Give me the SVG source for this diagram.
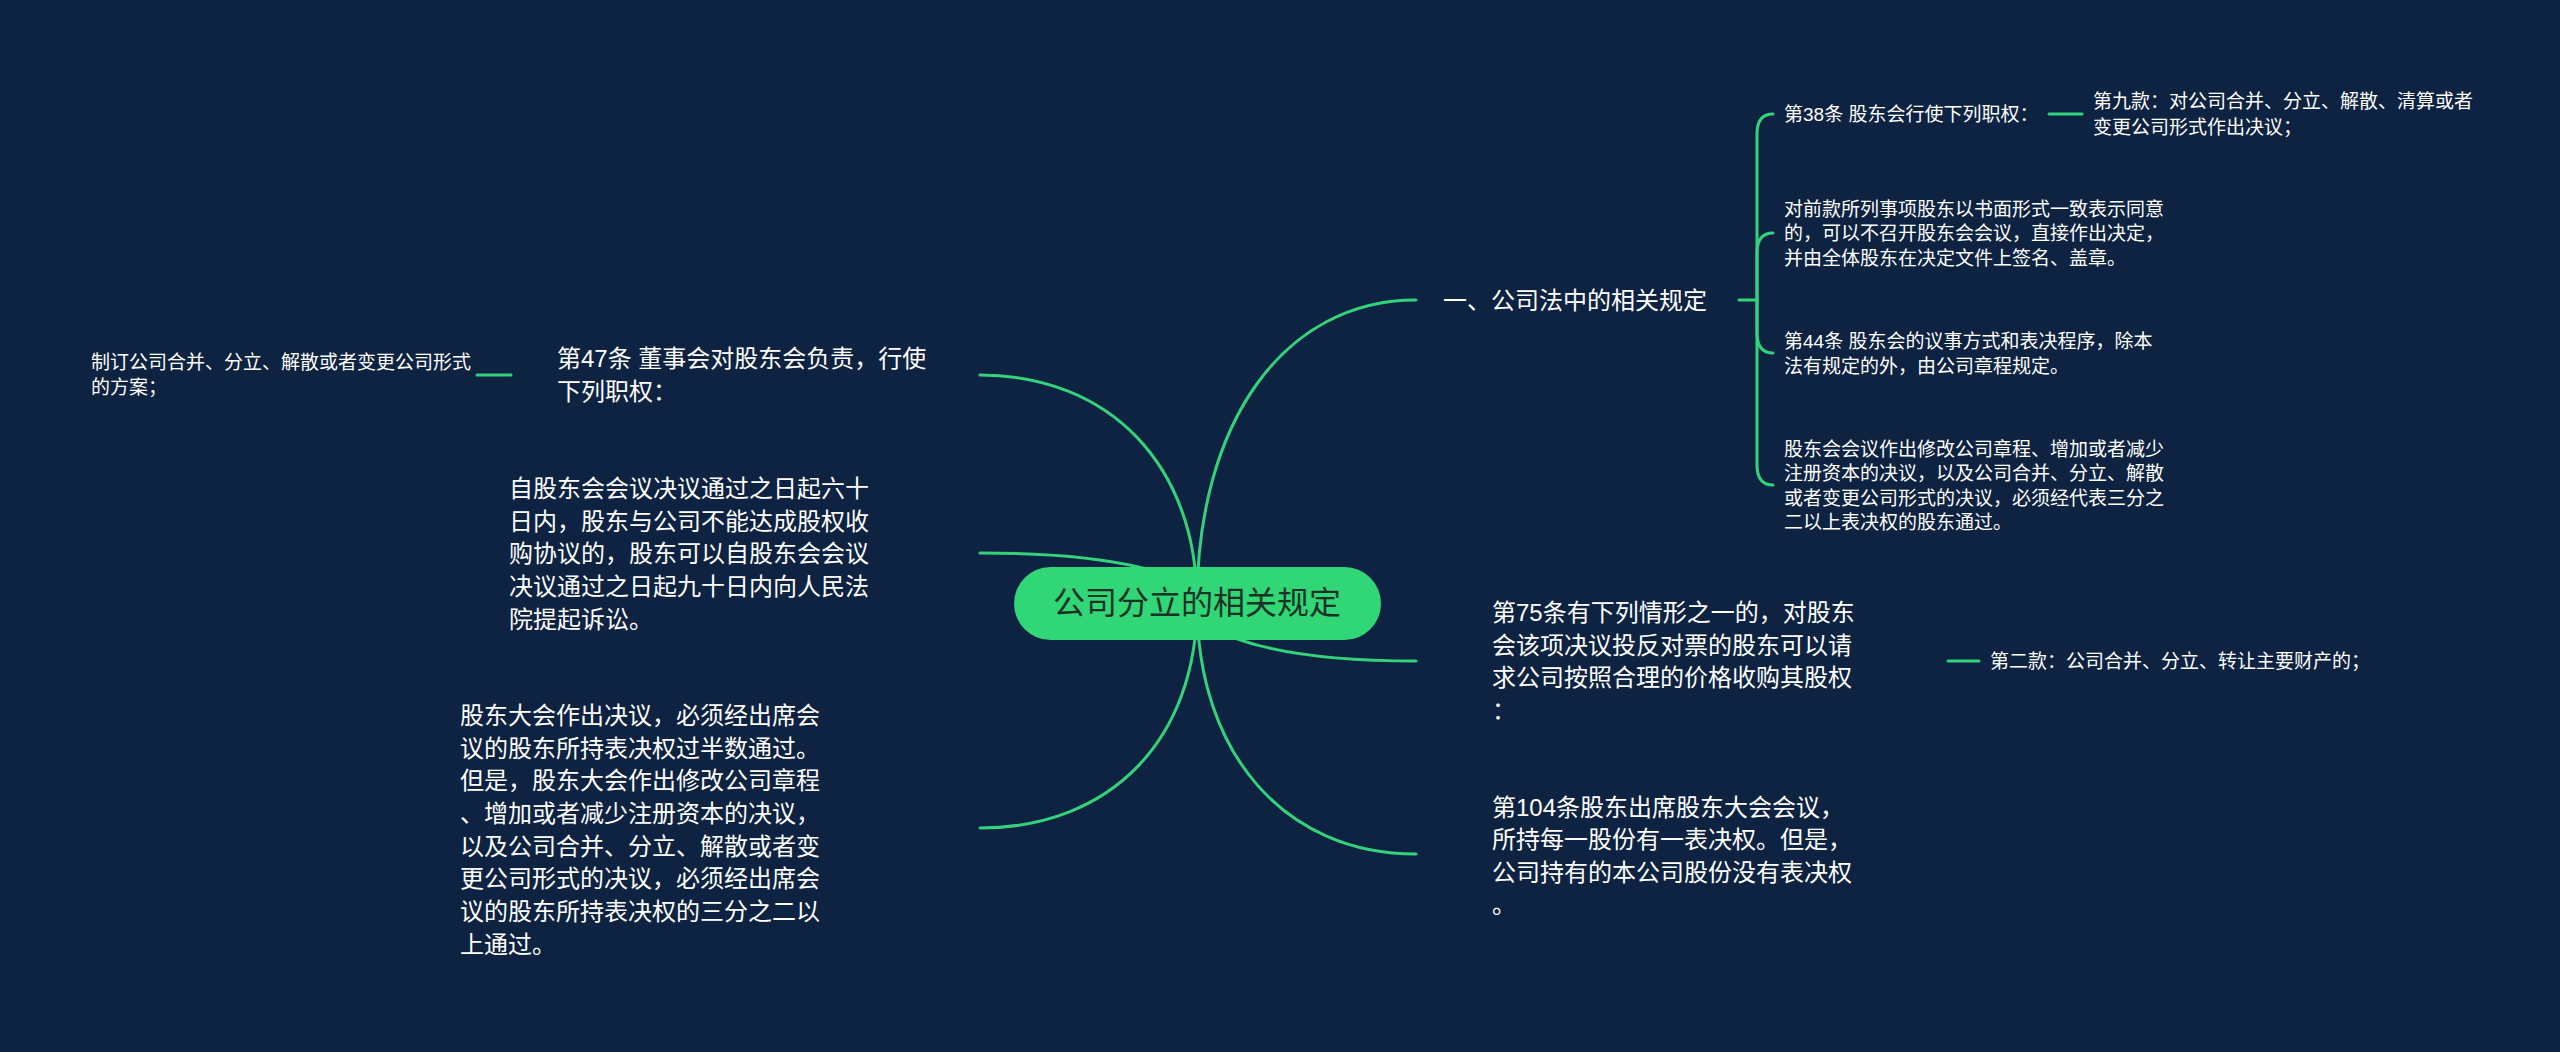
<svg xmlns="http://www.w3.org/2000/svg" width="2560" height="1052" viewBox="0 0 2560 1052">
<style>
.bg{fill:#0d2341}
.ln{fill:none;stroke:#34d27a;stroke-width:3;stroke-linecap:round}
.t{font-family:"Liberation Sans","Noto Sans CJK SC",sans-serif;fill:#ffffff;dominant-baseline:central}
.b{font-size:24px}
.s{font-size:19px}
.root{fill:#31d676}
.rt{font-family:"Liberation Sans","Noto Sans CJK SC",sans-serif;font-size:32px;fill:#183325;dominant-baseline:central;text-anchor:middle}
</style>
<rect class="bg" x="0" y="0" width="2560" height="1052"/>
<g id="connectors">
<path class="ln" d="M1197 603 C1197 421 1285 300 1416 300"/>
<path class="ln" d="M1197 603 C1197 466 1110 375 980 375"/>
<path class="ln" d="M1197 603 C1197 573 1110 553 980 553"/>
<path class="ln" d="M1197 603 C1197 638 1285 661 1416 661"/>
<path class="ln" d="M1197 603 C1197 740 1110 828 980 828"/>
<path class="ln" d="M1197 603 C1197 754 1285 854 1416 854"/>
<path class="ln" d="M1739 300 L1757 300"/>
<path class="ln" d="M1757 300 L1757 134 Q1757 114 1773 114"/>
<path class="ln" d="M1757 300 L1757 253 Q1757 233 1773 233"/>
<path class="ln" d="M1757 300 L1757 333 Q1757 353 1773 353"/>
<path class="ln" d="M1757 300 L1757 465 Q1757 485 1773 485"/>
<path class="ln" d="M2049 114 L2082 114"/>
<path class="ln" d="M1948 661 L1979 661"/>
<path class="ln" d="M477 375 L511 375"/>
</g>
<g id="root">
<rect class="root" x="1014" y="567" width="367" height="73" rx="36.5"/>
<text class="rt" x="1197" y="603">公司分立的相关规定</text>
</g>
<g id="n-r1">
<text class="t b" x="1443" y="300">一、公司法中的相关规定</text>
</g>
<g id="n-r1a">
<text class="t s" x="1784" y="114">第38条 股东会行使下列职权：</text>
</g>
<g id="n-r1a1">
<text class="t s" x="2093"><tspan x="2093" y="101">第九款：对公司合并、分立、解散、清算或者</tspan><tspan x="2093" y="127">变更公司形式作出决议；</tspan></text>
</g>
<g id="n-r1b">
<text class="t s"><tspan x="1784" y="209">对前款所列事项股东以书面形式一致表示同意</tspan><tspan x="1784" y="233">的，可以不召开股东会会议，直接作出决定，</tspan><tspan x="1784" y="258">并由全体股东在决定文件上签名、盖章。</tspan></text>
</g>
<g id="n-r1c">
<text class="t s"><tspan x="1784" y="341">第44条 股东会的议事方式和表决程序，除本</tspan><tspan x="1784" y="366">法有规定的外，由公司章程规定。</tspan></text>
</g>
<g id="n-r1d">
<text class="t s"><tspan x="1784" y="449">股东会会议作出修改公司章程、增加或者减少</tspan><tspan x="1784" y="473">注册资本的决议，以及公司合并、分立、解散</tspan><tspan x="1784" y="498">或者变更公司形式的决议，必须经代表三分之</tspan><tspan x="1784" y="522">二以上表决权的股东通过。</tspan></text>
</g>
<g id="n-r2">
<text class="t b"><tspan x="1492" y="612">第75条有下列情形之一的，对股东</tspan><tspan x="1492" y="645">会该项决议投反对票的股东可以请</tspan><tspan x="1492" y="677">求公司按照合理的价格收购其股权</tspan><tspan x="1492" y="710">：</tspan></text>
</g>
<g id="n-r2a">
<text class="t s" x="1990" y="661">第二款：公司合并、分立、转让主要财产的；</text>
</g>
<g id="n-r3">
<text class="t b"><tspan x="1492" y="807">第104条股东出席股东大会会议，</tspan><tspan x="1492" y="839">所持每一股份有一表决权。但是，</tspan><tspan x="1492" y="872">公司持有的本公司股份没有表决权</tspan><tspan x="1492" y="904">。</tspan></text>
</g>
<g id="n-l1">
<text class="t b"><tspan x="557" y="358">第47条 董事会对股东会负责，行使</tspan><tspan x="557" y="391">下列职权：</tspan></text>
</g>
<g id="n-l1a">
<text class="t s"><tspan x="91" y="362">制订公司合并、分立、解散或者变更公司形式</tspan><tspan x="91" y="387">的方案；</tspan></text>
</g>
<g id="n-l2">
<text class="t b"><tspan x="509" y="488">自股东会会议决议通过之日起六十</tspan><tspan x="509" y="521">日内，股东与公司不能达成股权收</tspan><tspan x="509" y="553">购协议的，股东可以自股东会会议</tspan><tspan x="509" y="586">决议通过之日起九十日内向人民法</tspan><tspan x="509" y="619">院提起诉讼。</tspan></text>
</g>
<g id="n-l3">
<text class="t b"><tspan x="460" y="715">股东大会作出决议，必须经出席会</tspan><tspan x="460" y="748">议的股东所持表决权过半数通过。</tspan><tspan x="460" y="780">但是，股东大会作出修改公司章程</tspan><tspan x="460" y="813">、增加或者减少注册资本的决议，</tspan><tspan x="460" y="846">以及公司合并、分立、解散或者变</tspan><tspan x="460" y="878">更公司形式的决议，必须经出席会</tspan><tspan x="460" y="911">议的股东所持表决权的三分之二以</tspan><tspan x="460" y="944">上通过。</tspan></text>
</g>
</svg>
